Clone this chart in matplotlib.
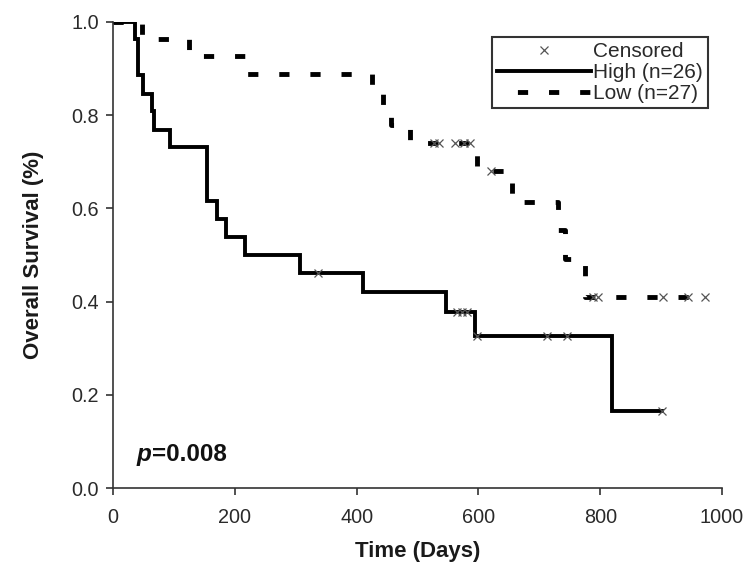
import numpy as np
import matplotlib.pyplot as plt
from matplotlib.lines import Line2D

plt.rcParams['font.family'] = ['Liberation Sans', 'DejaVu Sans']

# High group (n=26): event times and survival after each step
high_t = [0, 36, 41, 49, 64, 67, 94, 154, 170, 185, 217, 307, 411, 546, 594, 819, 901]
high_s = [1.0, 0.962, 0.885, 0.846, 0.808, 0.769, 0.731, 0.615, 0.577, 0.538, 0.500,
          0.462, 0.420, 0.378, 0.327, 0.165, 0.165]
high_cens_t = [336, 565, 573, 581, 597, 712, 745, 901]
high_cens_s = [0.462, 0.378, 0.378, 0.378, 0.327, 0.327, 0.327, 0.165]

# Low group (n=27)
low_t = [0, 47, 125, 219, 425, 444, 457, 488, 597, 655, 731, 742, 775, 972]
low_s = [1.0, 0.963, 0.926, 0.889, 0.852, 0.815, 0.778, 0.741, 0.680, 0.614,
         0.553, 0.491, 0.409, 0.409]
low_cens_t = [527, 535, 561, 577, 586, 621, 788, 796, 903, 944, 972]
low_cens_s = [0.741, 0.741, 0.741, 0.741, 0.741, 0.680, 0.409, 0.409, 0.409, 0.409, 0.409]

fig = plt.figure(figsize=(7.49, 5.73), dpi=100)
ax = fig.add_axes([0.151, 0.148, 0.813, 0.814])

ax.step(high_t, high_s, where='post', color='black', lw=2.8, solid_joinstyle='miter')
ax.step(low_t, low_s, where='post', color='black', lw=3.5, dashes=(2.1, 4.3))
ax.plot(high_cens_t, high_cens_s, 'x', color='#555555', ms=6, mew=0.9)
ax.plot(low_cens_t, low_cens_s, 'x', color='#555555', ms=6, mew=0.9)

ax.set_xlim(0, 1000)
ax.set_ylim(0, 1.0)
ax.set_xticks(np.arange(0, 1001, 200))
ax.set_yticks(np.arange(0, 1.01, 0.2))
ax.set_yticklabels(['%.1f' % v for v in np.arange(0, 1.01, 0.2)])
ax.spines['top'].set_visible(False)
ax.spines['right'].set_visible(False)
for s in ['left', 'bottom']:
    ax.spines[s].set_linewidth(1.2)
    ax.spines[s].set_color('#333333')
ax.tick_params(direction='out', length=5, width=1.2, color='#333333', labelsize=14.3,
               labelcolor='#2a2a2a')
ax.tick_params(axis='x', pad=9)
ax.tick_params(axis='y', pad=5)

ax.set_xlabel('Time (Days)', fontsize=16, fontweight='bold', labelpad=10, color='#1a1a1a')
ax.set_ylabel('Overall Survival (%)', fontsize=16, fontweight='bold', labelpad=20,
              color='#1a1a1a')

# p-value: italic bold p followed by bold value
pt = ax.text(0.039, 0.058, 'p', transform=ax.transAxes, fontsize=17.5,
             fontweight='bold', style='italic', color='#111111', va='baseline')
ax.annotate('=0.008', xy=(1, 0), xycoords=pt, va='bottom', ha='left',
            fontsize=17.5, fontweight='bold', color='#111111')

handles = [Line2D([], [], ls='none', marker='x', color='#555555', ms=6, mew=0.9),
           Line2D([], [], color='black', lw=2.8),
           Line2D([], [], color='black', lw=3.5, linestyle=(2.2, (2.1, 4.3)))]
leg = ax.legend(handles, ['Censored', 'High (n=26)', 'Low (n=27)'],
                loc='upper right', bbox_to_anchor=(0.977, 0.968), borderaxespad=0,
                fontsize=15, handlelength=4.5, handletextpad=0.1, labelspacing=0.1,
                fancybox=False, framealpha=1, borderpad=0.25)
leg.get_frame().set_edgecolor('#333333')
leg.get_frame().set_linewidth(1.5)
for txt in leg.get_texts():
    txt.set_color('#2a2a2a')

fig.savefig('out.png', dpi=100)
